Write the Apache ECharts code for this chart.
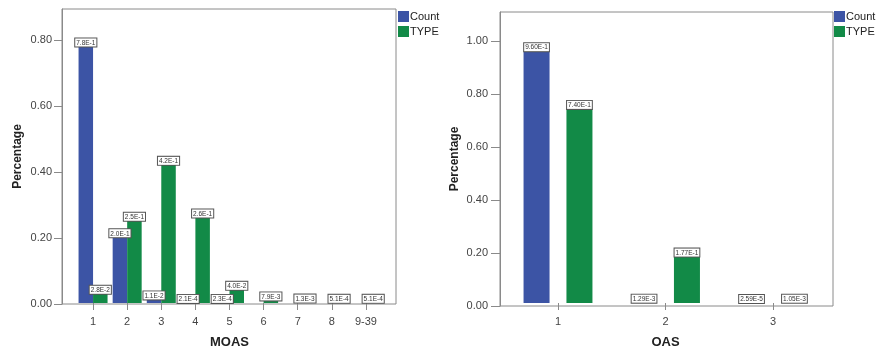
<!DOCTYPE html>
<html><head><meta charset="utf-8">
<script src="https://cdn.jsdelivr.net/npm/echarts@6/dist/echarts.min.js"></script>
<style>html,body{margin:0;padding:0;background:#fff}#c{width:882px;height:354px}</style>
</head><body><div id="c"></div>
<script>
const moasCats = ['1','2','3','4','5','6','7','8','9-39'];
const moasCount = [0.78, 0.20, 0.011, 0.00021, 0.00023, null, null, null, null];
const moasType = [0.028, 0.25, 0.42, 0.26, 0.040, 0.0079, 0.0013, 0.00051, 0.00051];
const oasCats = ['1','2','3'];
const oasCount = [0.96, 0.00129, 0.0000259];
const oasType = [0.74, 0.177, 0.00105];
const leftTicks = [0, 0.2, 0.4, 0.6, 0.8];
const rightTicks = [0, 0.2, 0.4, 0.6, 0.8, 1.0];

const BLUE = '#3c54a5', GREEN = '#128a47', FRAME = '#8a8a8a', TXT = '#444';
const FONT = 'Liberation Sans';
const LMAX = 295/330, RMAX = 294/265;

function lbl(digits){
  return {
    show: true, position: 'top', distance: 0,
    fontFamily: FONT, fontSize: 6.5, color: '#333',
    backgroundColor: '#fff', borderColor: '#555', borderWidth: 1,
    padding: [1, 1, 0, 1],
    formatter: p => (p.value == null ? '' : Number(p.value).toExponential(digits).replace('e', 'E'))
  };
}
function legendAt(x){
  return {left: x, top: 11, padding: 0, orient: 'vertical', itemWidth: 11, itemHeight: 11, itemGap: 4, icon: 'rect',
    textStyle: {fontSize: 11, color: '#222', padding: [0,0,0,-4]}, data: ['Count','TYPE']};
}

const chart = echarts.init(document.getElementById('c'), null, {renderer: 'canvas'});
chart.setOption({
  backgroundColor: '#fff',
  animation: false,
  textStyle: {fontFamily: FONT},
  legend: [legendAt(398), legendAt(834)],
  grid: [
    {left: 62, top: 9, width: 334, height: 295, show: true, borderColor: FRAME, borderWidth: 1},
    {left: 76, top: 9, width: 307, height: 295},
    {left: 500, top: 12, width: 333, height: 294, show: true, borderColor: FRAME, borderWidth: 1},
    {left: 504.25, top: 12, width: 322.5, height: 294}
  ],
  xAxis: [
    {gridIndex: 0, type: 'value', min: 0, max: 1, show: false},
    {gridIndex: 1, type: 'category', data: moasCats,
     axisLine: {show: false}, axisTick: {show: true, alignWithLabel: true, length: 7, lineStyle: {color: FRAME}},
     axisLabel: {fontSize: 11, color: TXT, margin: 13},
     name: 'MOAS', nameLocation: 'middle', nameGap: 33,
     nameTextStyle: {fontSize: 13, fontWeight: 'bold', color: '#222'}},
    {gridIndex: 2, type: 'value', min: 0, max: 1, show: false},
    {gridIndex: 3, type: 'category', data: oasCats,
     axisLine: {show: false}, axisTick: {show: true, alignWithLabel: true, length: 7, lineStyle: {color: FRAME}},
     axisLabel: {fontSize: 11, color: TXT, margin: 13},
     name: 'OAS', nameLocation: 'middle', nameGap: 33,
     nameTextStyle: {fontSize: 13, fontWeight: 'bold', color: '#222'}}
  ],
  yAxis: [
    {gridIndex: 0, type: 'value', min: 0, max: LMAX,
     axisLine: {show: true, lineStyle: {color: FRAME}},
     axisTick: {show: true, length: 8, customValues: leftTicks, lineStyle: {color: FRAME}},
     axisLabel: {fontSize: 11, color: TXT, margin: 10, customValues: leftTicks, formatter: v => v.toFixed(2)},
     splitLine: {show: false},
     name: 'Percentage', nameLocation: 'middle', nameGap: 38, nameRotate: 90,
     nameTextStyle: {fontSize: 12, fontWeight: 'bold', color: '#222'}},
    {gridIndex: 1, type: 'value', min: 0, max: LMAX, show: false},
    {gridIndex: 2, type: 'value', min: 0, max: RMAX,
     axisLine: {show: true, lineStyle: {color: FRAME}},
     axisTick: {show: true, length: 9, customValues: rightTicks, lineStyle: {color: FRAME}},
     axisLabel: {fontSize: 11, color: TXT, margin: 12, customValues: rightTicks, formatter: v => v.toFixed(2)},
     splitLine: {show: false},
     name: 'Percentage', nameLocation: 'middle', nameGap: 39, nameRotate: 90,
     nameTextStyle: {fontSize: 12, fontWeight: 'bold', color: '#222'}},
    {gridIndex: 3, type: 'value', min: 0, max: RMAX, show: false}
  ],
  series: [
    {name: 'Count', type: 'bar', xAxisIndex: 1, yAxisIndex: 1, data: moasCount, barWidth: 14.5, barGap: '0%',
     itemStyle: {color: BLUE}, label: lbl(1)},
    {name: 'TYPE', type: 'bar', xAxisIndex: 1, yAxisIndex: 1, data: moasType, barWidth: 14.5, barGap: '0%',
     itemStyle: {color: GREEN}, label: lbl(1)},
    {name: 'Count', type: 'bar', xAxisIndex: 3, yAxisIndex: 3, data: oasCount, barWidth: 26, barGap: '65%',
     itemStyle: {color: BLUE}, label: lbl(2)},
    {name: 'TYPE', type: 'bar', xAxisIndex: 3, yAxisIndex: 3, data: oasType, barWidth: 26, barGap: '65%',
     itemStyle: {color: GREEN}, label: lbl(2)}
  ]
});
</script></body></html>
